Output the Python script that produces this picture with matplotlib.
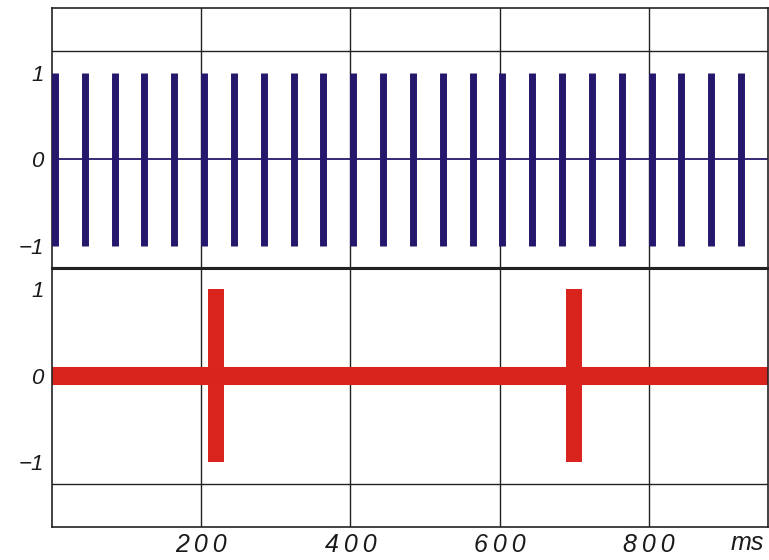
import matplotlib.pyplot as plt

# stimulus times in ms
blue_spikes = [0, 40, 80, 120, 160, 200, 240, 280, 320, 360, 400, 440,
               480, 520, 560, 600, 640, 680, 720, 760, 800, 840, 880, 920]
red_spikes = [220, 700]

x_ticks = [200, 400, 600, 800]
x_tick_labels = ["200", "400", "600", "800"]
y_ticks = [-1, 0, 1]
y_tick_labels = ["\u22121", "0", "1"]

BLUE = "#25186c"
RED = "#d9231d"
INK = "#1a1a1a"

plt.rcParams['font.family'] = ['Liberation Sans', 'DejaVu Sans']

fig = plt.figure(figsize=(7.69, 5.6), dpi=100)
W, H = 769, 560
left, right = 52 / W, 768 / W
mid = 1 - 267.5 / H
ax1 = fig.add_axes([left, mid, right - left, (267.5 - 8) / H])
ax2 = fig.add_axes([left, 1 - 527 / H, right - left, (527 - 267.5) / H])


def style(ax, ylim, hline):
    ax.set_xlim(0, 960)
    ax.set_ylim(*ylim)
    ax.set_xticks(x_ticks)
    ax.set_yticks(y_ticks)
    ax.set_yticklabels(y_tick_labels, fontsize=16, style="italic", color=INK)
    ax.tick_params(axis="y", length=0, pad=6)
    ax.tick_params(axis="x", length=0, pad=4)
    for x in x_ticks:
        ax.axvline(x, color="#222222", lw=1.0, zorder=0)
    ax.axhline(hline, color="#222222", lw=1.0, zorder=0)
    for s in ax.spines.values():
        s.set_linewidth(1.2)
        s.set_color("#222222")


style(ax1, (-1.25, 1.75), 1.25)
style(ax2, (-1.75, 1.25), -1.25)
ax1.spines["bottom"].set_linewidth(2.2)
ax2.spines["top"].set_linewidth(2.2)
ax1.set_xticklabels([])
ax2.set_xticklabels(["\u2009".join(t) for t in x_tick_labels], fontsize=18,
                    style="italic", color=INK)

# top: pulse train
ax1.axhline(0, color=BLUE, lw=1.3, zorder=2)
ax1.vlines([t + 4 for t in blue_spikes], -1, 1, color=BLUE, lw=5.0,
           capstyle="butt", zorder=3)

# bottom: sparse pulses
ax2.axhline(0, color=RED, lw=13, solid_capstyle="butt", zorder=2)
ax2.vlines(red_spikes, -1, 1, color=RED, lw=11.5, capstyle="butt", zorder=3)

ax2.text(932, -0.015, "ms", transform=ax2.get_xaxis_transform(), ha="center",
         va="top", fontsize=18, style="italic", color=INK)

fig.savefig("out.png", dpi=100)
